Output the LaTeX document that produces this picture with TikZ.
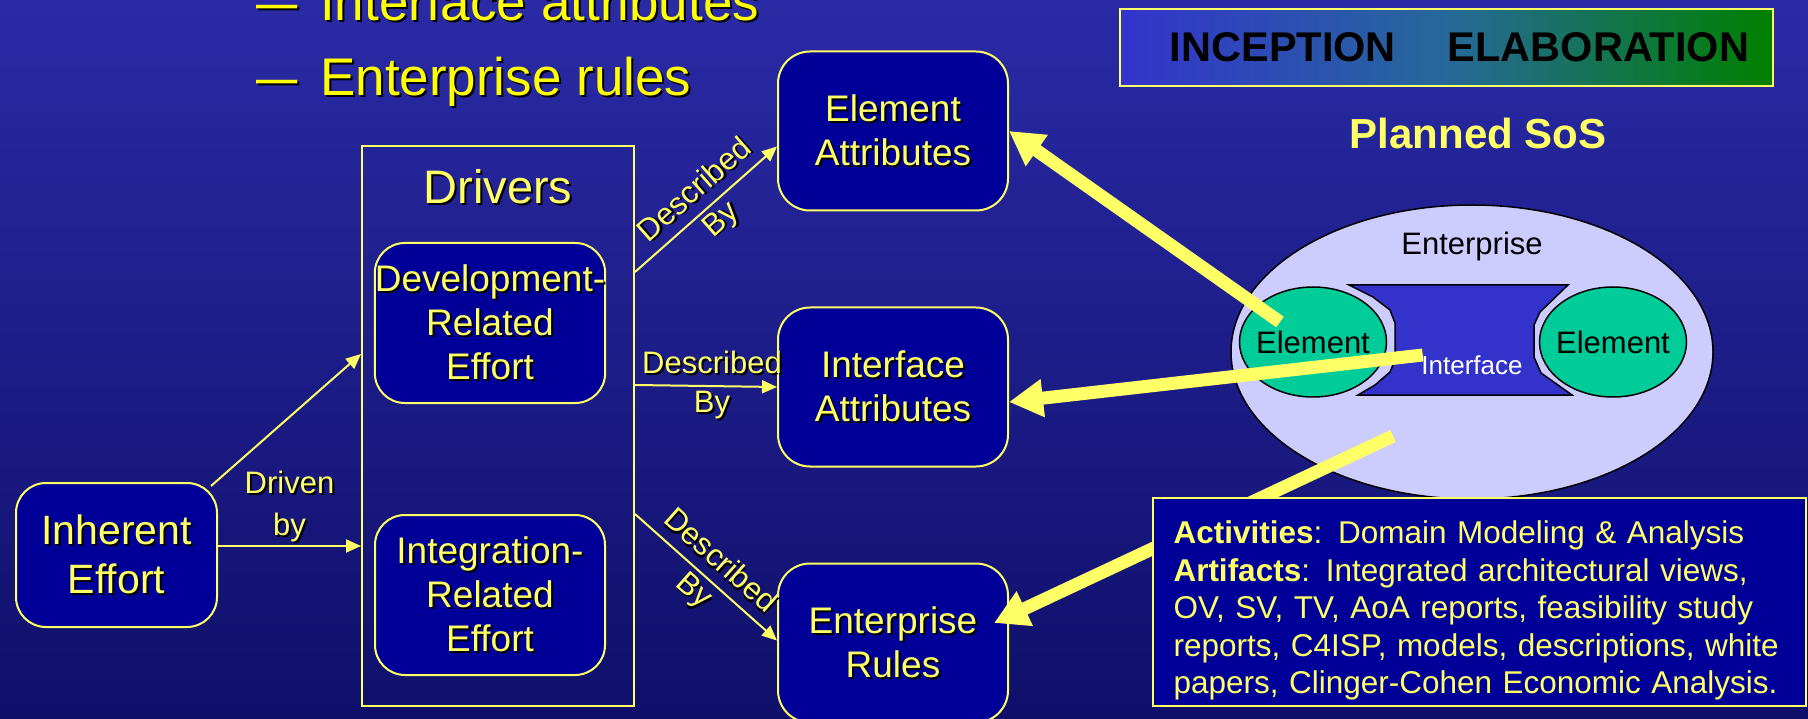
\documentclass[tikz,border=0pt]{standalone}
\usepackage{fontspec}
\usepackage{graphicx}
\setmainfont{Liberation Sans}
\usetikzlibrary{arrows.meta,shapes.geometric,calc}
\definecolor{yel}{HTML}{FFFF66}
\definecolor{yelb}{HTML}{FFFF00}
\definecolor{boxblue}{HTML}{000099}
\definecolor{bgtop}{HTML}{2A2AA6}
\definecolor{bgbot}{HTML}{0F0F6A}
\definecolor{entfill}{HTML}{CCCCFF}
\definecolor{elfill}{HTML}{00CC99}
\definecolor{iffill}{HTML}{3333CC}
\definecolor{tleft}{HTML}{3333CC}
\definecolor{tmid}{HTML}{26699A}
\definecolor{tright}{HTML}{008000}
\newcommand\shd[1]{\leavevmode\rlap{\kern2pt\raisebox{-2pt}{\textcolor{black}{#1}}}#1}
\newcommand\fs[2]{\fontsize{#1pt}{#2pt}\selectfont}
\begin{document}
\begin{tikzpicture}[x=1pt,y=-1pt,
  rbox/.style={draw=yel, line width=2pt, fill=boxblue, rounded corners=32pt,
    minimum width=230pt, minimum height=159pt, text=yel, align=center,
    inner sep=0pt, font=\fs{37}{44}},
  thinarrow/.style={draw=yel, line width=2pt, -{Triangle[length=15pt,width=13pt]}},
  fatarrow/.style={draw=yel, line width=13pt, -{Triangle[length=34pt,width=36pt]}},
  lbl/.style={text=yel, align=center, inner sep=0pt, font=\fs{31}{39}},
  elnode/.style={ellipse, draw=black, line width=1.5pt, fill=elfill,
    minimum width=147pt, minimum height=110pt, inner sep=0pt, font=\fs{31}{36}},
]
% background
\fill[use as bounding box, top color=bgtop, bottom color=bgbot] (0,0) rectangle (1808,719);
\clip (0,0) rectangle (1808,719);

% bullets
\node[anchor=base west, text=yelb, font=\fs{53}{60}, inner sep=0pt] (b1) at (256,21)
  {\shd{\makebox[64pt][l]{\scalebox{1.4}[1]{–}}Interface attributes}};
\node[anchor=base west, text=yelb, font=\fs{53}{60}, inner sep=0pt] (b2) at (256,96)
  {\shd{\makebox[64pt][l]{\scalebox{1.4}[1]{–}}Enterprise rules}};

% drivers
\node[draw=yel, line width=2pt, minimum width=272pt, minimum height=560pt, inner sep=0pt] (drv) at (498,426) {};
\node[lbl, font=\fs{47}{52}] (drvlbl) at (498,188) {\shd{Drivers}};
\node[rbox, minimum height=160pt, rounded corners=30pt] (dev) at (490,323)
  {\shd{Development-}\\\shd{Related}\\\shd{Effort}};
\node[rbox, minimum height=160pt, rounded corners=30pt] (int) at (490,595)
  {\shd{Integration-}\\\shd{Related}\\\shd{Effort}};
\node[rbox, minimum width=201pt, minimum height=144pt, rounded corners=30pt, font=\fs{41}{49}] (inh) at (116.5,555)
  {\shd{Inherent}\\\shd{Effort}};

% attribute boxes
\node[rbox] (ea) at (893,131) {\shd{Element}\\\shd{Attributes}};
\node[rbox] (ia) at (893,387) {\shd{Interface}\\\shd{Attributes}};
\node[rbox] (er) at (893,643) {\shd{Enterprise}\\\shd{Rules}};

% thin arrows
\draw[thinarrow] ($(inh.north east)+(-7,4)$) -- ($(drv.north west)+(0,209)$);
\coordinate (s2) at ([yshift=9pt]inh.east);
\draw[thinarrow] (s2) -- (s2 -| drv.west)
  node[midway, above=1pt, lbl, font=\fs{31}{42}] (drivenlbl) {\shd{Driven}\\\shd{by}};
\draw[thinarrow] ($(drv.north east)+(0,127)$) -- ($(ea.north west)+(0,96)$)
  node[midway, sloped, lbl, xshift=4pt] (d1) {\shd{Described}\\\shd{By}};
\draw[thinarrow] ($(drv.north east)+(0,240)$) -- (ia.west)
  node[midway, lbl, xshift=6pt] (d2) {\shd{Described}\\\shd{By}};
\draw[thinarrow] ($(drv.north east)+(0,369)$) -- ($(er.north west)+(0,78)$)
  node[midway, sloped, lbl] (d3) {\shd{Described}\\\shd{By}};

% phase banner
\node[draw=yel, line width=2pt, left color=tleft, right color=tright, middle color=tmid,
  minimum width=653pt, minimum height=77pt, inner sep=0pt, font=\bfseries\fs{41.5}{48}] (phase)
  at (1446.5,47.5) {\kern26pt INCEPTION\hspace{52pt}ELABORATION};
\node[text=yel, font=\bfseries\fs{42}{48}, inner sep=0pt] (sos) at (1478,133) {Planned SoS};

% enterprise
\node[ellipse, draw=black, line width=1.5pt, fill=entfill, minimum width=482pt,
  minimum height=294pt, inner sep=0pt] (ent) at (1472,352) {};
\node[font=\fs{31}{36}, inner sep=0pt] (entlbl) at (1472,246) {Enterprise};
\draw[fill=iffill, line width=1.5pt] (1349,285) -- (1568,285) -- (1540,312) -- (1534,325)
  -- (1534,357) -- (1541,373) -- (1572,395) -- (1358,395) -- (1375,385) -- (1390,372)
  -- (1395,360) -- (1395,323) -- (1390,310) -- (1373,297) -- cycle;
\node[elnode] (el) at (1313,342) {\makebox[0pt]{Element}};
\node[elnode] (elr) at (1613,342) {\makebox[0pt]{Element}};
\node[text=white, font=\fs{26}{30}, inner sep=0pt] (iflbl) at (1472,365) {Interface};

% thick arrows
\coordinate (f1) at ($(el.center)+(-33,-20)$);
\coordinate (f2) at ($(iflbl.west)+(1.5,-10)$);
\coordinate (f3) at ($(ent.center)+(-79,84)$);
\draw[fatarrow] (f1) -- (ea.east);
\draw[fatarrow] (f2) -- ($(ia.east)+(0,15)$);
\draw[fatarrow] (f3) -- ($(er.east)+(-15,-20)$);

% activities box
\node[draw=yel, line width=2.5pt, fill=boxblue, minimum width=653pt, minimum height=208pt,
  text width=612pt, inner xsep=20.5pt,
  align=left, text=yel, font=\fs{31.5}{37.5}] (act) at (1479.5,602)
  {\rule{0pt}{40pt}\textbf{Activities}: Domain Modeling \& Analysis\\
   \textbf{Artifacts}: Integrated architectural views,\\
   OV, SV, TV, AoA reports, feasibility study\\
   reports, C4ISP, models, descriptions, white\\
   papers, Clinger-Cohen Economic Analysis.};
\end{tikzpicture}
\end{document}
